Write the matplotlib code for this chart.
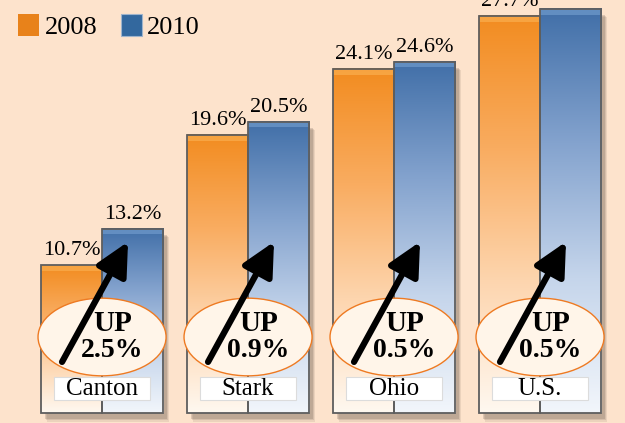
import numpy as np
import matplotlib.pyplot as plt
from matplotlib.colors import LinearSegmentedColormap
from matplotlib.patches import Rectangle, Ellipse

areas = ['Canton', 'Stark', 'Ohio', 'U.S.']
rate_2008 = [10.7, 19.6, 24.1, 27.7]
rate_2010 = [13.2, 20.5, 24.6, 28.2]
years = ['2008', '2010']

BG = '#FDE3CC'
SERIF = 'Liberation Serif'
BASE = 0.6          # where the bars visually stop at the bottom
W = 0.418           # bar width (group pitch = 1)

cmap_or = LinearSegmentedColormap.from_list('or', ['#FFF8F0', '#FDD5AE', '#F9AC60', '#F28C20'])
cmap_bl = LinearSegmentedColormap.from_list('bl', ['#F2F6FB', '#C5D5EB', '#84A3CE', '#416FA8'])

fig = plt.figure(figsize=(6.25, 4.23), dpi=100, facecolor=BG)
ax = fig.add_axes([0, 0, 1, 1])
ax.set_facecolor(BG)
ax.axis('off')

grad = np.linspace(0, 1, 256).reshape(-1, 1)

def draw_bar(x0, top, cmap, bevel, label):
    # soft drop shadow
    for k, al in enumerate([0.12, 0.16, 0.22]):
        d = 0.012 * (3 - k)
        ax.add_patch(Rectangle((x0 + 0.02 + d / 2, BASE - 0.35 - d * 6), W, top - BASE,
                               fc='#6a5a4e', ec='none', alpha=al, zorder=1))
    ax.imshow(grad, extent=[x0, x0 + W, BASE, top], origin='lower', aspect='auto',
              cmap=cmap, zorder=2, interpolation='bilinear')
    # light bevel along the top
    ax.add_patch(Rectangle((x0, top - 0.4), W, 0.4, fc=bevel, ec='none',
                           alpha=0.8, zorder=2.5))
    ax.add_patch(Rectangle((x0, BASE), W, top - BASE, fc='none', ec='#5e5e5e',
                           lw=1.3, zorder=3))
    ax.annotate(label, (x0 + W / 2, top), xytext=(0, 7), textcoords='offset points',
                ha='center', va='baseline', fontsize=16, family=SERIF, zorder=6)

for i, (a, b) in enumerate(zip(rate_2008, rate_2010)):
    draw_bar(i - W, a, cmap_or, '#F9AA4A', f'{a:.1f}%')
    draw_bar(i, b, cmap_bl, '#6B96C8', f'{b:.1f}%')

    ax.add_patch(Ellipse((i, 5.8), 0.877, 5.3, fc='#FFF5E9', ec='#EE7A22', lw=1.0, zorder=4))
    ax.annotate('', xy=(i + 0.178, 12.3), xytext=(i - 0.274, 4.1),
                arrowprops=dict(arrowstyle='-|>,head_length=1.0,head_width=0.5',
                                lw=4.5, color='black', mutation_scale=20,
                                shrinkA=0, shrinkB=0), zorder=5)
    ax.text(i + 0.07, 6.75, 'UP', ha='center', va='center', fontsize=21,
            fontweight='bold', family=SERIF, zorder=6)
    ax.text(i + 0.07, 4.85, f'{b - a:.1f}%', ha='center', va='center', fontsize=20,
            fontweight='bold', family=SERIF, zorder=6)

    ax.add_patch(Rectangle((i - 0.33, 1.5), 0.66, 1.55, fc='white', ec='#dcdcdc',
                           lw=0.8, zorder=4))
    ax.text(i, 2.25, areas[i], ha='center', va='center', fontsize=18,
            family=SERIF, zorder=6)

ax.set_xlim(-0.699, 3.582)
ax.set_ylim(-0.068, 28.8)

handles = [Rectangle((0, 0), 1, 1, fc='#E8821A', ec='none'),
           Rectangle((0, 0), 1, 1, fc='#33689E', ec='#9fb4cc', lw=0.8)]
ax.legend(handles, years, loc='upper left', bbox_to_anchor=(18 / 625, 1 - 14 / 423),
          ncol=2, frameon=False, borderaxespad=0, borderpad=0,
          handlelength=0.8, handleheight=0.92, handletextpad=0.2, columnspacing=0.9,
          prop={'family': SERIF, 'size': 19})

fig.savefig('out.png', dpi=100, facecolor=BG)
